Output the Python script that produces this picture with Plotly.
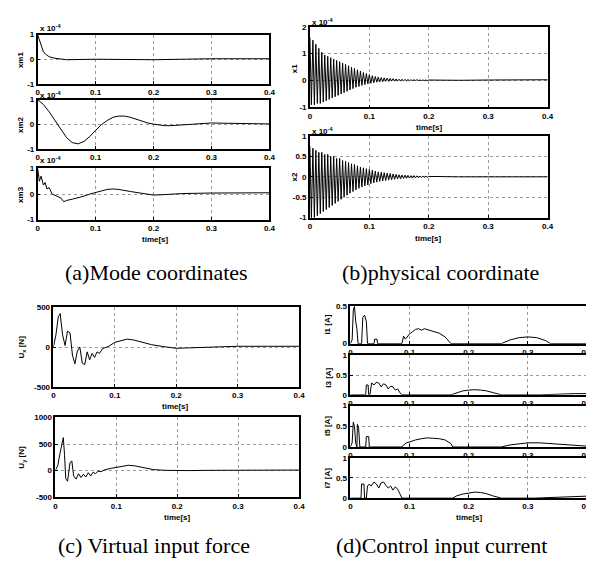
import plotly.graph_objects as go

W, H = 594, 566

# ---------------- data ----------------
X_TICKS = [0, 0.1, 0.2, 0.3, 0.4]
X_TICK_TEXT = ["0", "0.1", "0.2", "0.3", "0.4"]

# (a) mode coordinates (x 10^-4)
A1_T = [0, 0.005, 0.01, 0.015, 0.02, 0.03, 0.04, 0.05, 0.1, 0.2, 0.3, 0.4]
A1_V = [1.0, 0.6, 0.3, 0.18, 0.1, 0.04, 0.0, -0.02, 0.0, -0.02, 0.02, 0.02]

A2_T = [0, 0.01, 0.02, 0.03, 0.04, 0.05, 0.06, 0.07, 0.08, 0.09, 0.1, 0.11, 0.12,
        0.13, 0.14, 0.15, 0.16, 0.17, 0.18, 0.19, 0.2, 0.21, 0.22, 0.23, 0.24,
        0.26, 0.28, 0.3, 0.32, 0.35, 0.4]
A2_V = [1, 0.8, 0.5, 0.15, -0.2, -0.55, -0.75, -0.8, -0.7, -0.5, -0.25, -0.02, 0.15,
        0.28, 0.33, 0.33, 0.28, 0.2, 0.12, 0.05, 0.0, -0.04, -0.06, -0.06, -0.04,
        0.0, 0.03, 0.05, 0.04, 0.02, 0.01]

A3_T = [0, 0.003, 0.006, 0.01, 0.013, 0.016, 0.02, 0.025, 0.03, 0.035,
        0.04, 0.045, 0.05, 0.06, 0.07, 0.08, 0.09, 0.1, 0.11, 0.12,
        0.13, 0.14, 0.16, 0.18, 0.2, 0.22, 0.25, 0.3, 0.35, 0.4]
A3_V = [1, 0.5, 0.7, 0.35, 0.45, 0.2, 0.25, 0.0, -0.05, -0.1,
        -0.15, -0.3, -0.25, -0.2, -0.15, -0.08, 0.0, 0.06, 0.12, 0.18,
        0.2, 0.18, 0.1, 0.02, -0.04, -0.02, 0.02, 0.04, 0.04, 0.05]

# (b) physical coordinates (x 10^-4), sampled every 0.0025 s up to 0.2 s, then tail
B_T = [round(i * 0.0025, 4) for i in range(81)] + [0.22, 0.25, 0.3, 0.35, 0.4]
B1_V = [1.6, -0.9, 1.5, -0.9, 1.35, -0.85, 1.2, -0.85, 1.05, -0.8,
        0.95, -0.75, 0.9, -0.7, 0.85, -0.65, 0.8, -0.6, 0.75, -0.55,
        0.7, -0.5, 0.65, -0.45, 0.6, -0.4, 0.55, -0.35, 0.5, -0.3,
        0.45, -0.25, 0.4, -0.22, 0.35, -0.18, 0.3, -0.15, 0.26, -0.12,
        0.22, -0.1, 0.18, -0.08, 0.15, -0.06, 0.13, -0.05, 0.11, -0.04,
        0.1, -0.03, 0.09, -0.03, 0.08, -0.02, 0.07, -0.02, 0.06, -0.02,
        0.05, -0.02, 0.05, -0.01, 0.04, -0.01, 0.04, -0.01, 0.03, 0.0,
        0.03, 0.0, 0.03, 0.0, 0.02, 0.0, 0.02, 0.0, 0.02, 0.0,
        0.02, 0.01, 0.01, 0.02, 0.02, 0.03]
B2_V = [0.75, -1.0, 0.7, -1.0, 0.65, -0.95, 0.6, -0.9, 0.6, -0.85,
        0.55, -0.8, 0.55, -0.75, 0.5, -0.7, 0.5, -0.65, 0.45, -0.6,
        0.45, -0.55, 0.4, -0.5, 0.38, -0.45, 0.35, -0.4, 0.32, -0.36,
        0.3, -0.32, 0.27, -0.28, 0.24, -0.25, 0.22, -0.22, 0.2, -0.2,
        0.18, -0.17, 0.16, -0.15, 0.14, -0.13, 0.12, -0.11, 0.11, -0.1,
        0.1, -0.09, 0.09, -0.08, 0.08, -0.07, 0.07, -0.06, 0.06, -0.05,
        0.05, -0.05, 0.045, -0.04, 0.04, -0.035, 0.035, -0.03, 0.03, -0.03,
        0.03, -0.025, 0.025, -0.02, 0.02, -0.02, 0.02, -0.015, 0.015, -0.01,
        0.01, 0.0, 0.0, 0.0, 0.0, 0.0]

# (c) virtual input force [N]
UX_T = [0, 0.004, 0.008, 0.011, 0.015, 0.019, 0.023, 0.027, 0.031, 0.035, 0.039, 0.043,
        0.047, 0.051, 0.055, 0.059, 0.063, 0.067, 0.071, 0.075, 0.08, 0.09, 0.1, 0.11,
        0.12, 0.13, 0.14, 0.15, 0.16, 0.18, 0.2, 0.22, 0.25, 0.3, 0.35, 0.4]
UX_V = [0, 150, 380, 420, 150, 20, 200, 180, -100, -210, -50, 0,
        -200, -220, -60, -160, -80, -130, -60, -80, -20, 10, 60, 80,
        100, 90, 70, 50, 30, 5, -15, -10, 0, 10, 10, 10]

UY_T = [0, 0.004, 0.008, 0.011, 0.013, 0.015, 0.017, 0.02, 0.024, 0.027, 0.03, 0.034,
        0.038, 0.042, 0.046, 0.05, 0.054, 0.058, 0.062, 0.066, 0.07, 0.075, 0.08, 0.09,
        0.1, 0.11, 0.12, 0.13, 0.14, 0.15, 0.16, 0.18, 0.2, 0.22, 0.25, 0.3, 0.35, 0.4]
UY_V = [0, 100, 350, 500, 620, 300, -150, -200, 150, 180, -100, -160,
        -60, -130, -70, -120, -40, -100, -30, -60, -10, -20, 10, 40,
        60, 80, 100, 90, 70, 40, 20, 5, 0, 0, 5, 10, 10, 10]

# (d) control input currents [A]
I1_T = [0, 0.003, 0.005, 0.007, 0.009, 0.011, 0.013, 0.019, 0.021, 0.024, 0.027, 0.029,
        0.04, 0.041, 0.045, 0.046, 0.087, 0.09, 0.093, 0.097, 0.1, 0.105, 0.11, 0.115,
        0.12, 0.125, 0.13, 0.14, 0.15, 0.16, 0.165, 0.17, 0.255, 0.27, 0.285, 0.3,
        0.315, 0.33, 0.338, 0.4]
I1_V = [0, 0.05, 0.45, 0.5, 0.3, 0.2, 0, 0, 0.35, 0.38, 0.3, 0,
        0, 0.06, 0.06, 0, 0, 0.1, 0.06, 0.1, 0.13, 0.16, 0.19, 0.2,
        0.18, 0.2, 0.19, 0.17, 0.14, 0.09, 0.05, 0, 0, 0.05, 0.08, 0.09,
        0.08, 0.04, 0, 0]

I3_T = [0, 0.026, 0.027, 0.03, 0.031, 0.033, 0.036, 0.04, 0.044, 0.048, 0.052, 0.056,
        0.06, 0.064, 0.068, 0.072, 0.076, 0.08, 0.084, 0.087, 0.17, 0.18, 0.19, 0.2,
        0.21, 0.22, 0.23, 0.24, 0.255, 0.32, 0.35, 0.38, 0.4]
I3_V = [0, 0, 0.25, 0.25, 0, 0, 0.3, 0.25, 0.32, 0.3, 0.2, 0.28,
        0.25, 0.15, 0.22, 0.2, 0.12, 0.15, 0.05, 0, 0, 0.06, 0.1, 0.12,
        0.13, 0.12, 0.1, 0.06, 0, 0, 0.02, 0.03, 0.03]

I5_T = [0, 0.003, 0.005, 0.007, 0.009, 0.011, 0.012, 0.014, 0.016, 0.026, 0.027, 0.031,
        0.032, 0.087, 0.09, 0.095, 0.1, 0.11, 0.12, 0.13, 0.14, 0.15, 0.16, 0.17,
        0.173, 0.255, 0.27, 0.285, 0.3, 0.32, 0.34, 0.36, 0.38, 0.4]
I5_V = [0, 0.1, 0.6, 0.5, 0.1, 0, 0.55, 0.45, 0, 0, 0.25, 0.25,
        0, 0, 0.05, 0.1, 0.12, 0.17, 0.2, 0.22, 0.21, 0.2, 0.17, 0.08,
        0, 0, 0.05, 0.08, 0.1, 0.1, 0.08, 0.06, 0.04, 0.02]

I7_T = [0, 0.018, 0.019, 0.023, 0.024, 0.027, 0.029, 0.032, 0.035, 0.04, 0.044, 0.048,
        0.052, 0.056, 0.06, 0.064, 0.068, 0.072, 0.076, 0.08, 0.084, 0.087, 0.173, 0.18,
        0.19, 0.2, 0.21, 0.22, 0.23, 0.24, 0.255, 0.31, 0.34, 0.37, 0.4]
I7_V = [0, 0, 0.35, 0.35, 0, 0, 0.3, 0.35, 0.3, 0.4, 0.35, 0.25,
        0.38, 0.4, 0.32, 0.25, 0.3, 0.2, 0.28, 0.22, 0.1, 0, 0, 0.06,
        0.1, 0.13, 0.15, 0.14, 0.11, 0.06, 0, 0, 0.02, 0.04, 0.05]

# ---------------- layout of panels (pixel boxes: left, right, top, bottom) ----------------
panels = [
    dict(box=(28, 263, 23, 73), t=A1_T, v=A1_V, yr=[-1, 1], yt=[-1, 0, 1], ytt=["-1", "0", "1"]),
    dict(box=(28, 263, 89, 139), t=A2_T, v=A2_V, yr=[-1, 1], yt=[-1, 0, 1], ytt=["-1", "0", "1"]),
    dict(box=(28, 263, 159, 211), t=A3_T, v=A3_V, yr=[-1, 1], yt=[-1, 0, 1], ytt=["-1", "0", "1"]),
    dict(box=(304, 545, 15, 97), t=B_T, v=B1_V, yr=[-1, 2], yt=[-1, 0, 1, 2], ytt=["-1", "0", "1", "2"]),
    dict(box=(304, 545, 126, 209), t=B_T, v=B2_V, yr=[-1, 1], yt=[-1, -0.5, 0, 0.5, 1],
         ytt=["-1", "-0.5", "0", "0.5", "1"]),
    dict(box=(44, 293, 300, 381), t=UX_T, v=UX_V, yr=[-500, 500], yt=[-500, 0, 500], ytt=["-500", "0", "500"]),
    dict(box=(46, 293, 412, 493), t=UY_T, v=UY_V, yr=[-500, 1000], yt=[-500, 0, 500, 1000],
         ytt=["-500", "0", "500", "1000"]),
    dict(box=(345, 585, 299, 337), t=I1_T, v=I1_V, yr=[0, 0.5], yt=[0, 0.5], ytt=["0", "0.5"]),
    dict(box=(345, 585, 349, 389), t=I3_T, v=I3_V, yr=[0, 1], yt=[0, 0.5, 1], ytt=["0", "0.5", "1"]),
    dict(box=(345, 585, 400, 442), t=I5_T, v=I5_V, yr=[0, 1], yt=[0, 0.5, 1], ytt=["0", "0.5", "1"]),
    dict(box=(345, 585, 453, 494), t=I7_T, v=I7_V, yr=[0, 1], yt=[0, 0.5, 1], ytt=["0", "0.5", "1"]),
]

TICKFONT = dict(family="Liberation Sans", size=8, color="black", weight="bold")

fig = go.Figure()
layout_axes = {}
for i, p in enumerate(panels, start=1):
    xa = "x" if i == 1 else f"x{i}"
    ya = "y" if i == 1 else f"y{i}"
    fig.add_trace(go.Scatter(x=p["t"], y=p["v"], xaxis=xa, yaxis=ya, mode="lines",
                             line=dict(color="black", width=1), hoverinfo="skip"))
    l, r, t, b = p["box"]
    common = dict(showline=True, mirror=True, linecolor="black", linewidth=1.5,
                  ticks="inside", ticklen=3, tickcolor="black", tickfont=TICKFONT,
                  showgrid=True, gridcolor="#9a9a9a", griddash="dot", gridwidth=1,
                  zeroline=False, fixedrange=True)
    layout_axes["xaxis" if i == 1 else f"xaxis{i}"] = dict(
        domain=[l / W, r / W], anchor=ya, range=[0, 0.4],
        tickvals=X_TICKS, ticktext=X_TICK_TEXT, **common)
    layout_axes["yaxis" if i == 1 else f"yaxis{i}"] = dict(
        domain=[1 - b / H, 1 - t / H], anchor=xa, range=p["yr"],
        tickvals=p["yt"], ticktext=p["ytt"], **common)

annotations = []


def ann(text, x, y, size=8, angle=0, family="Liberation Sans", bold=True, xanchor="center"):
    annotations.append(dict(
        text=text, x=x / W, y=1 - y / H, xref="paper", yref="paper",
        showarrow=False, textangle=angle, xanchor=xanchor, yanchor="middle",
        font=dict(family=family, size=size, color="black", weight="bold" if bold else "normal")))


# y-axis titles
ann("xm1", 10, 48, angle=-90)
ann("xm2", 10, 114, angle=-90)
ann("xm3", 10, 185, angle=-90)
ann("x1", 288, 58, angle=-90)
ann("x2", 288, 168, angle=-90)
ann("U<sub>x</sub> [N]", 12, 340, angle=-90)
ann("U<sub>y</sub> [N]", 12, 452, angle=-90)
ann("i1 [A]", 322, 318, angle=-90)
ann("i3 [A]", 322, 372, angle=-90)
ann("i5 [A]", 322, 421, angle=-90)
ann("i7 [A]", 322, 474, angle=-90)

# exponent labels
for xx, yy in [(28, 16), (28, 84), (28, 150), (304, 10), (304, 121)]:
    ann("x 10<sup>-4</sup>", xx, yy, xanchor="left")

# x-axis titles
ann("time[s]", 147, 231)
ann("time[s]", 425, 117)
ann("time[s]", 424, 230)
ann("time[s]", 168, 401)
ann("time[s]", 170, 514)
ann("time[s]", 466, 514)

# captions
CAP = "Liberation Serif"
ann("(a)Mode coordinates", 148, 265, size=22, family=CAP, bold=False)
ann("(b)physical coordinate", 436, 265, size=22, family=CAP, bold=False)
ann("(c) Virtual input force", 146, 542, size=22, family=CAP, bold=False)
ann("(d)Control input current", 437, 542, size=22, family=CAP, bold=False)

fig.update_layout(
    width=W, height=H,
    margin=dict(l=0, r=0, t=0, b=0),
    paper_bgcolor="white", plot_bgcolor="white",
    showlegend=False,
    annotations=annotations,
    **layout_axes,
)

fig.write_html("out.html")
